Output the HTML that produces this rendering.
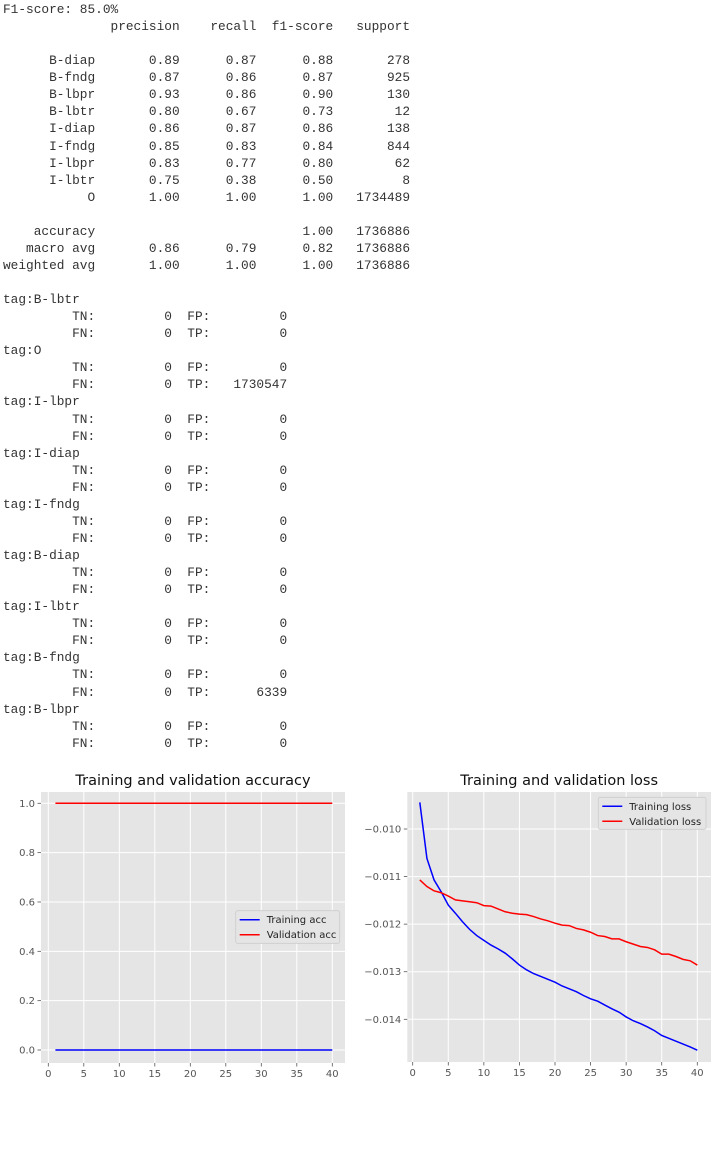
<!DOCTYPE html>
<html><head><meta charset="utf-8">
<style>
html,body{margin:0;padding:0;background:#fff;width:724px;height:1150px;overflow:hidden}
pre{position:absolute;left:3px;top:1px;margin:0;font-family:"Liberation Mono","DejaVu Sans Mono",monospace;font-size:12.8px;line-height:17.07px;color:#333;letter-spacing:0}
svg{position:absolute;left:0;top:0}
</style></head><body>
<pre>F1-score: 85.0%
              precision    recall  f1-score   support

      B-diap       0.89      0.87      0.88       278
      B-fndg       0.87      0.86      0.87       925
      B-lbpr       0.93      0.86      0.90       130
      B-lbtr       0.80      0.67      0.73        12
      I-diap       0.86      0.87      0.86       138
      I-fndg       0.85      0.83      0.84       844
      I-lbpr       0.83      0.77      0.80        62
      I-lbtr       0.75      0.38      0.50         8
           O       1.00      1.00      1.00   1734489

    accuracy                           1.00   1736886
   macro avg       0.86      0.79      0.82   1736886
weighted avg       1.00      1.00      1.00   1736886

tag:B-lbtr
         TN:         0  FP:         0
         FN:         0  TP:         0
tag:O
         TN:         0  FP:         0
         FN:         0  TP:   1730547
tag:I-lbpr
         TN:         0  FP:         0
         FN:         0  TP:         0
tag:I-diap
         TN:         0  FP:         0
         FN:         0  TP:         0
tag:I-fndg
         TN:         0  FP:         0
         FN:         0  TP:         0
tag:B-diap
         TN:         0  FP:         0
         FN:         0  TP:         0
tag:I-lbtr
         TN:         0  FP:         0
         FN:         0  TP:         0
tag:B-fndg
         TN:         0  FP:         0
         FN:         0  TP:      6339
tag:B-lbpr
         TN:         0  FP:         0
         FN:         0  TP:         0</pre>
<svg id="charts" width="724" height="1150" xmlns="http://www.w3.org/2000/svg"></svg>
<script>
const epochs = [];
for (let i = 1; i <= 40; i++) epochs.push(i);
const trainAcc = [0,0,0,0,0,0,0,0,0,0,0,0,0,0,0,0,0,0,0,0,0,0,0,0,0,0,0,0,0,0,0,0,0,0,0,0,0,0,0,0];
const valAcc = [1,1,1,1,1,1,1,1,1,1,1,1,1,1,1,1,1,1,1,1,1,1,1,1,1,1,1,1,1,1,1,1,1,1,1,1,1,1,1,1];
const trainLoss = [-0.00944,-0.01062,-0.01107,-0.01132,-0.0116,-0.01177,-0.01195,-0.01211,-0.01224,-0.01234,
-0.01244,-0.01252,-0.01261,-0.01273,-0.01286,-0.01296,-0.01304,-0.0131,-0.01316,-0.01322,
-0.0133,-0.01336,-0.01342,-0.0135,-0.01357,-0.01362,-0.0137,-0.01378,-0.01385,-0.01395,
-0.01403,-0.01409,-0.01416,-0.01424,-0.01434,-0.0144,-0.01446,-0.01452,-0.01458,-0.01465];
const valLoss = [-0.01107,-0.01121,-0.0113,-0.01134,-0.01141,-0.01149,-0.01151,-0.01153,-0.01155,-0.01161,
-0.01162,-0.01168,-0.01174,-0.01177,-0.01179,-0.0118,-0.01184,-0.01189,-0.01193,-0.01198,
-0.01202,-0.01203,-0.01209,-0.01212,-0.01217,-0.01224,-0.01226,-0.01231,-0.01231,-0.01237,
-0.01242,-0.01247,-0.01249,-0.01254,-0.01263,-0.01263,-0.01268,-0.01274,-0.01277,-0.01286];
const xTicks = [0,5,10,15,20,25,30,35,40];
const accYTicks = [0,0.2,0.4,0.6,0.8,1.0];
const accYLabels = ["0.0","0.2","0.4","0.6","0.8","1.0"];
const lossYTicks = [-0.010,-0.011,-0.012,-0.013,-0.014];
const lossYLabels = ["\u22120.010","\u22120.011","\u22120.012","\u22120.013","\u22120.014"];

const svg = document.getElementById('charts');
const NS = 'http://www.w3.org/2000/svg';
function mk(tag, attrs, parent) {
  const e = document.createElementNS(NS, tag);
  for (const k in attrs) e.setAttribute(k, attrs[k]);
  (parent || svg).appendChild(e);
  return e;
}
function chart(cfg) {
  const g = mk('g', {});
  
  
  const sx = v => cfg.x0 + (v - cfg.xa) / (cfg.xb - cfg.xa) * (cfg.x1 - cfg.x0);
  const sy = v => cfg.y0 + (v - cfg.ya) / (cfg.yb - cfg.ya) * (cfg.y1 - cfg.y0);
  const bg = mk('rect', {x: cfg.L, y: cfg.T, width: cfg.R - cfg.L, height: cfg.B - cfg.T, fill: '#e5e5e5'}, g);
  
  
  xTicks.forEach(t => {
    const x = sx(t);
    mk('line', {x1: x, x2: x, y1: cfg.T, y2: cfg.B, stroke: '#fff', 'stroke-width': 1}, g);
    mk('line', {x1: x, x2: x, y1: cfg.B, y2: cfg.B + 3.5, stroke: '#555', 'stroke-width': 0.8}, g);
    const tx = mk('text', {x: x, y: cfg.B + 14, 'text-anchor': 'middle', 'font-size': 10, fill: '#555', 'font-family': 'DejaVu Sans, Liberation Sans, sans-serif'}, g);
    tx.textContent = t;
    
    
  });
  cfg.yTicks.forEach((t, i) => {
    const y = sy(t);
    mk('line', {x1: cfg.L, x2: cfg.R, y1: y, y2: y, stroke: '#fff', 'stroke-width': 1}, g);
    mk('line', {x1: cfg.L - 3.5, x2: cfg.L, y1: y, y2: y, stroke: '#555', 'stroke-width': 0.8}, g);
    const ty = mk('text', {x: cfg.L - 6, y: y + 3.5, 'text-anchor': 'end', 'font-size': 10, fill: '#555', 'font-family': 'DejaVu Sans, Liberation Sans, sans-serif'}, g);
    ty.textContent = cfg.yLabels[i];
    
    
  });
  cfg.series.forEach(s => {
    const p = mk('polyline', {points: epochs.map((e, i) => sx(e) + ',' + sy(s.data[i])).join(' '), fill: 'none', stroke: s.color, 'stroke-width': 1.5}, g);
    
    
  });
  const title = mk('text', {x: (cfg.L + cfg.R) / 2, y: cfg.T - 7, 'text-anchor': 'middle', 'font-size': 14.5, fill: '#111', 'font-family': 'DejaVu Sans, Liberation Sans, sans-serif'}, g);
  title.textContent = cfg.title;
  
  
  const lg = mk('g', {}, g);
  
  
  const [lx, ly, lw, lh] = cfg.legend;
  mk('rect', {x: lx, y: ly, width: lw, height: lh, fill: '#e5e5e5', stroke: '#ccc', 'stroke-width': 0.8, rx: 2}, lg);
  cfg.series.forEach((s, i) => {
    const yy = ly + 9 + i * 15;
    mk('line', {x1: lx + 4, x2: lx + 24, y1: yy, y2: yy, stroke: s.color, 'stroke-width': 1.5}, lg);
    const t = mk('text', {x: lx + 31, y: yy + 3.5, 'font-size': 10, fill: '#222', 'font-family': 'DejaVu Sans, Liberation Sans, sans-serif'}, lg);
    t.textContent = s.label;
    
    
  });
}
chart({name: 'accuracy-chart', title: 'Training and validation accuracy',
  L: 41, R: 345, T: 792, B: 1063,
  xa: 0, xb: 40, x0: 48.3, x1: 332.3,
  ya: 0, yb: 1, y0: 1050, y1: 803.3,
  yTicks: accYTicks, yLabels: accYLabels,
  legend: [235.7, 910.7, 104, 32.6],
  series: [{id: 'training-acc-line', label: 'Training acc', color: '#0000ff', data: trainAcc},
           {id: 'validation-acc-line', label: 'Validation acc', color: '#ff0000', data: valAcc}]});
chart({name: 'loss-chart', title: 'Training and validation loss',
  L: 407.3, R: 711, T: 792, B: 1062,
  xa: 0, xb: 40, x0: 412.7, x1: 697.3,
  ya: -0.010, yb: -0.014, y0: 829, y1: 1019.3,
  yTicks: lossYTicks, yLabels: lossYLabels,
  legend: [598.3, 797.3, 107.7, 32],
  series: [{id: 'training-loss-line', label: 'Training loss', color: '#0000ff', data: trainLoss},
           {id: 'validation-loss-line', label: 'Validation loss', color: '#ff0000', data: valLoss}]});
</script>
</body></html>
